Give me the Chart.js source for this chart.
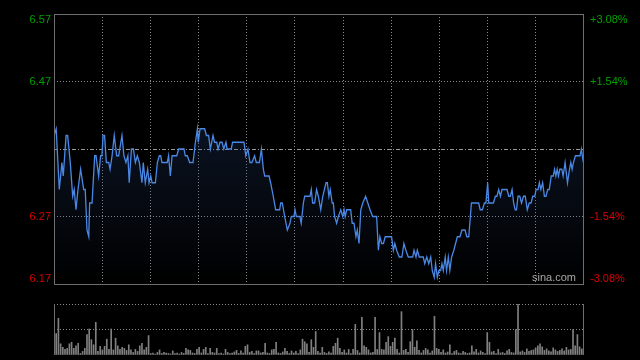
<!DOCTYPE html>
<html>
<head>
<meta charset="utf-8">
<title>分时图</title>
<script src="https://cdn.jsdelivr.net/npm/chart.js@4.4.1/dist/chart.umd.min.js"></script>
<style>
  html, body { margin: 0; padding: 0; background: #000; }
  #wrap { position: relative; width: 640px; height: 360px; overflow: hidden; background: #000; }
  #priceChart { position: absolute; left: 0; top: 0; }
  #volumeChart { position: absolute; left: 0; top: 300px; }
  #brand { position: absolute; left: 532px; top: 271px; font: 11px "Liberation Sans", Arial, sans-serif; color: #a8a8a8; }
</style>
</head>
<body>
<div id="wrap">
  <canvas id="priceChart" width="640" height="300"></canvas>
  <canvas id="volumeChart" width="640" height="60"></canvas>
  <div id="brand">sina.com</div>
</div>
<script>
// minutes since the open, and the price at each turn of the line
const minutes = [
  0, 1, 2.4, 3.6, 4.2, 5.5, 6.2, 7.4, 8.5, 9.2,
  10, 10.9, 12.1, 13.5, 14.2, 15, 15.8, 16.2, 17.3, 18.5,
  19.1, 20.3, 21.2, 21.8, 22.3, 23, 23.8, 24.9, 25.5, 26.4,
  27.4, 28.5, 29.4, 30.9, 31.8, 32.7, 33.6, 34.2, 35.2, 36.1,
  37, 37.9, 38.8, 40, 40.6, 41.5, 42.6, 43.2, 44, 44.6,
  46.1, 47, 47.9, 48.5, 49.1, 51.5, 52.1, 52.9, 53.7, 55.8,
  56.7, 59.1, 59.7, 60.6, 61.7, 63.2, 64.3, 65.2, 65.6, 66.4,
  68.5, 69.3, 70.3, 71.1, 72.3, 73, 74, 74.6, 75.5, 76.4,
  77.2, 78.2, 78.7, 80.6, 81.2, 86.4, 87.2, 88.2, 89.1, 90,
  91.2, 92, 93.4, 94.3, 95.2, 95.8, 97.8, 98.5, 99.7, 100.8,
  102.6, 103.1, 103.8, 104.9, 106.1, 107.3, 107.9, 109.1, 109.6, 110.2,
  111.8, 112.4, 113.4, 114, 116.4, 117, 117.6, 118.5, 119.4, 120.2,
  121.3, 122.2, 123.7, 124.3, 125, 125.6, 126.5, 127, 127.6, 128.5,
  129.3, 130.4, 131.3, 131.9, 132.4, 133.1, 134.9, 135.6, 136.4, 137.3,
  137.9, 138.7, 139.5, 140.4, 141.7, 142.7, 143.7, 144.9, 146.7, 147.5,
  148.2, 149, 149.8, 150.6, 153.5, 154.3, 155, 155.8, 157, 158.2,
  159.1, 160, 161.1, 161.9, 163.1, 163.7, 164.6, 165.2, 166.1, 167.9,
  168.6, 169.5, 170.4, 171.3, 172, 172.9, 173.5, 174.3, 175, 175.8,
  176.4, 177, 177.9, 178.5, 179.3, 180, 180.8, 181.8, 183.4, 184.6,
  185.5, 186.9, 187.7, 188.6, 189.8, 193.1, 193.8, 194.8, 195.7, 196.4,
  197.2, 197.7, 199.8, 200.7, 201.4, 202.2, 203, 203.7, 206, 206.8,
  207.5, 208.3, 209, 209.7, 210.3, 211, 211.8, 212.6, 213.5, 214.3,
  215.2, 216.1, 216.9, 217.7, 218.6, 219.2, 220.1, 220.7, 221.4, 222.2,
  223, 223.7, 224.5, 225.2, 226.1, 227, 227.6, 228.2, 228.8, 229.4,
  230, 230.9, 231.5, 232.4, 233.5, 234.4, 235, 235.6, 236.2, 237.1,
  238.3, 239.2, 239.8, 240.7
];

const prices = [
  6.39, 6.40, 6.31, 6.35, 6.33, 6.39, 6.39, 6.35, 6.30, 6.31,
  6.28, 6.31, 6.34, 6.31, 6.31, 6.25, 6.24, 6.29, 6.29, 6.36,
  6.36, 6.33, 6.36, 6.36, 6.39, 6.39, 6.35, 6.35, 6.34, 6.36,
  6.39, 6.36, 6.36, 6.39, 6.36, 6.35, 6.36, 6.32, 6.37, 6.37,
  6.35, 6.36, 6.35, 6.32, 6.35, 6.32, 6.34, 6.32, 6.33, 6.32,
  6.32, 6.35, 6.36, 6.36, 6.35, 6.35, 6.36, 6.33, 6.36, 6.36,
  6.37, 6.37, 6.36, 6.36, 6.35, 6.35, 6.38, 6.40, 6.38, 6.40,
  6.40, 6.39, 6.39, 6.37, 6.39, 6.38, 6.38, 6.37, 6.38, 6.38,
  6.37, 6.38, 6.37, 6.37, 6.38, 6.38, 6.36, 6.37, 6.35, 6.35,
  6.36, 6.35, 6.35, 6.37, 6.34, 6.33, 6.33, 6.32, 6.30, 6.28,
  6.28, 6.29, 6.29, 6.27, 6.25, 6.26, 6.27, 6.27, 6.28, 6.27,
  6.27, 6.26, 6.29, 6.30, 6.30, 6.31, 6.29, 6.29, 6.31, 6.30,
  6.28, 6.30, 6.32, 6.32, 6.30, 6.31, 6.29, 6.29, 6.27, 6.26,
  6.27, 6.28, 6.27, 6.28, 6.27, 6.28, 6.28, 6.26, 6.26, 6.24,
  6.25, 6.23, 6.28, 6.29, 6.30, 6.29, 6.28, 6.27, 6.27, 6.22,
  6.24, 6.23, 6.23, 6.24, 6.24, 6.22, 6.23, 6.22, 6.21, 6.21,
  6.23, 6.22, 6.21, 6.21, 6.21, 6.22, 6.21, 6.22, 6.21, 6.21,
  6.20, 6.21, 6.20, 6.21, 6.19, 6.18, 6.20, 6.18, 6.19, 6.19,
  6.20, 6.19, 6.21, 6.19, 6.21, 6.19, 6.21, 6.22, 6.24, 6.24,
  6.25, 6.25, 6.24, 6.24, 6.29, 6.29, 6.28, 6.28, 6.29, 6.29,
  6.32, 6.29, 6.29, 6.30, 6.30, 6.31, 6.30, 6.31, 6.31, 6.30,
  6.30, 6.31, 6.29, 6.28, 6.28, 6.30, 6.30, 6.29, 6.30, 6.30,
  6.28, 6.29, 6.29, 6.30, 6.30, 6.31, 6.31, 6.32, 6.31, 6.32,
  6.30, 6.30, 6.31, 6.31, 6.33, 6.33, 6.34, 6.33, 6.34, 6.33,
  6.34, 6.34, 6.33, 6.35, 6.32, 6.34, 6.35, 6.34, 6.35, 6.36,
  6.36, 6.36, 6.37, 6.35
];

// one bar per minute, 0..241
const volumes = [
  87, 42, 72, 22, 15, 11, 13, 22, 25, 13,
  18, 23, 3, 7, 13, 40, 51, 30, 20, 64,
  7, 17, 10, 17, 31, 11, 51, 10, 33, 18,
  11, 15, 13, 9, 20, 10, 5, 11, 7, 18,
  23, 10, 15, 38, 3, 4, 2, 5, 10, 3,
  5, 4, 3, 2, 8, 3, 4, 2, 5, 3,
  13, 10, 9, 4, 3, 11, 15, 4, 11, 15,
  3, 13, 5, 4, 13, 3, 4, 2, 11, 5,
  3, 4, 6, 9, 3, 8, 4, 17, 20, 5,
  7, 3, 8, 8, 4, 5, 23, 4, 3, 10,
  11, 25, 4, 3, 6, 13, 7, 3, 8, 4,
  7, 3, 10, 31, 26, 22, 5, 30, 15, 46,
  7, 4, 15, 5, 3, 6, 4, 17, 23, 33,
  13, 5, 10, 4, 11, 3, 11, 60, 9, 4,
  74, 18, 15, 10, 4, 5, 74, 11, 44, 11,
  10, 25, 36, 17, 25, 33, 11, 4, 85, 9,
  11, 5, 26, 50, 15, 28, 9, 4, 9, 13,
  10, 4, 8, 76, 13, 11, 5, 10, 4, 6,
  20, 3, 7, 9, 4, 3, 7, 5, 3, 4,
  18, 6, 11, 4, 8, 5, 3, 44, 25, 6,
  7, 3, 11, 4, 5, 3, 8, 11, 5, 4,
  50, 100, 6, 8, 5, 12, 7, 9, 10, 14,
  18, 22, 16, 9, 12, 8, 6, 14, 10, 7,
  9, 12, 8, 15, 10, 11, 50, 18, 40, 16,
  12, 8
];

const prevClose = 6.37;
const priceTicks = [6.57, 6.47, 6.37, 6.27, 6.17];
const priceLabels = ["6.57", "6.47", "", "6.27", "6.17"];
const pctLabels = ["+3.08%", "+1.54%", "", "-1.54%", "-3.08%"];
const volumeTicks = [0, 50, 100];

const upColor = "#00a000";
const downColor = "#d80000";
const gridColor = "#8a8a8a";
const frameColor = "#6e6e6e";
const labelFont = '11px "Liberation Sans", Arial, sans-serif';

const lastMinute = 241;
const timeSections = 11;

function timeGridTicks(scale) {
  scale.ticks = [];
  for (let i = 0; i <= timeSections; i++) {
    scale.ticks.push({ value: (i * lastMinute) / timeSections });
  }
}

// frame, prev close line and side labels
const priceDecor = {
  id: "priceDecor",
  beforeDatasetsDraw(chart) {
    const { ctx, chartArea, scales } = chart;
    const y = Math.round(scales.y.getPixelForValue(prevClose)) + 0.5;
    ctx.save();
    ctx.strokeStyle = "#9a9a9a";
    ctx.lineWidth = 1;
    ctx.setLineDash([4, 2, 1, 2]);
    ctx.beginPath();
    ctx.moveTo(chartArea.left, y);
    ctx.lineTo(chartArea.right, y);
    ctx.stroke();
    ctx.restore();
  },
  afterDraw(chart) {
    const { ctx, chartArea, scales } = chart;
    ctx.save();
    ctx.strokeStyle = frameColor;
    ctx.lineWidth = 1;
    ctx.strokeRect(chartArea.left + 0.5, chartArea.top + 0.5,
      chartArea.right - chartArea.left - 1, chartArea.bottom - chartArea.top);

    ctx.font = labelFont;
    priceTicks.forEach((v, i) => {
      if (!priceLabels[i]) return;
      let py = scales.y.getPixelForValue(v);
      ctx.textBaseline = "middle";
      if (i === 0) {
        ctx.textBaseline = "top";
        py = chartArea.top;
      } else if (i === priceTicks.length - 1) {
        ctx.textBaseline = "bottom";
        py = chartArea.bottom;
      }
      ctx.fillStyle = v > prevClose ? upColor : downColor;
      ctx.textAlign = "right";
      ctx.fillText(priceLabels[i], chartArea.left - 3, py);
      ctx.textAlign = "left";
      ctx.fillText(pctLabels[i], chartArea.right + 6, py);
    });
    ctx.restore();
  }
};

const volumeDecor = {
  id: "volumeDecor",
  afterDraw(chart) {
    const { ctx, chartArea } = chart;
    ctx.save();
    ctx.strokeStyle = frameColor;
    ctx.lineWidth = 1;
    ctx.beginPath();
    ctx.moveTo(chartArea.left + 0.5, chartArea.top);
    ctx.lineTo(chartArea.left + 0.5, chartArea.bottom);
    ctx.moveTo(chartArea.right - 0.5, chartArea.top);
    ctx.lineTo(chartArea.right - 0.5, chartArea.bottom);
    ctx.stroke();
    ctx.restore();
  }
};

new Chart(document.getElementById("priceChart"), {
  type: "line",
  data: {
    datasets: [
      {
        data: minutes.map((m, i) => ({ x: m, y: prices[i] })),
        borderColor: "#4a88e6",
        borderWidth: 1.3,
        pointRadius: 0,
        tension: 0,
        fill: "start",
        backgroundColor: (context) => {
          const { ctx, chartArea } = context.chart;
          if (!chartArea) return null;
          const g = ctx.createLinearGradient(0, chartArea.top, 0, chartArea.bottom);
          g.addColorStop(0, "rgba(40, 70, 125, 0.45)");
          g.addColorStop(1, "rgba(40, 70, 125, 0)");
          return g;
        }
      }
    ]
  },
  options: {
    responsive: false,
    animation: false,
    layout: { padding: { left: 54, right: 56, top: 14, bottom: 16 } },
    plugins: { legend: { display: false }, tooltip: { enabled: false } },
    scales: {
      x: {
        type: "linear",
        min: 0,
        max: lastMinute,
        afterBuildTicks: timeGridTicks,
        ticks: { display: false },
        border: { display: false, dash: [1, 2] },
        grid: {
          drawTicks: false,
          color: (c) => (c.index === 0 || c.index === timeSections ? "rgba(0,0,0,0)" : gridColor)
        }
      },
      y: {
        min: 6.17,
        max: 6.57,
        afterBuildTicks: (scale) => {
          scale.ticks = priceTicks.map((v) => ({ value: v }));
        },
        ticks: { display: false },
        border: { display: false, dash: [1, 2] },
        grid: {
          drawTicks: false,
          color: (c) => (c.tick && (c.tick.value === 6.47 || c.tick.value === 6.27) ? gridColor : "rgba(0,0,0,0)")
        }
      }
    }
  },
  plugins: [priceDecor]
});

new Chart(document.getElementById("volumeChart"), {
  type: "bar",
  data: {
    labels: volumes.map((v, i) => i),
    datasets: [
      {
        data: volumes,
        backgroundColor: "#808080",
        barThickness: 1
      }
    ]
  },
  options: {
    responsive: false,
    animation: false,
    layout: { padding: { left: 54, right: 56, top: 4, bottom: 5 } },
    plugins: { legend: { display: false }, tooltip: { enabled: false } },
    scales: {
      x: {
        display: false,
        offset: false
      },
      y: {
        min: 0,
        max: 100,
        afterBuildTicks: (scale) => {
          scale.ticks = volumeTicks.map((v) => ({ value: v }));
        },
        ticks: { display: false },
        border: { display: false, dash: [1, 2] },
        grid: {
          drawTicks: false,
          color: (c) => (c.tick && c.tick.value > 0 ? gridColor : "rgba(0,0,0,0)")
        }
      }
    }
  },
  plugins: [volumeDecor]
});
</script>
</body>
</html>
